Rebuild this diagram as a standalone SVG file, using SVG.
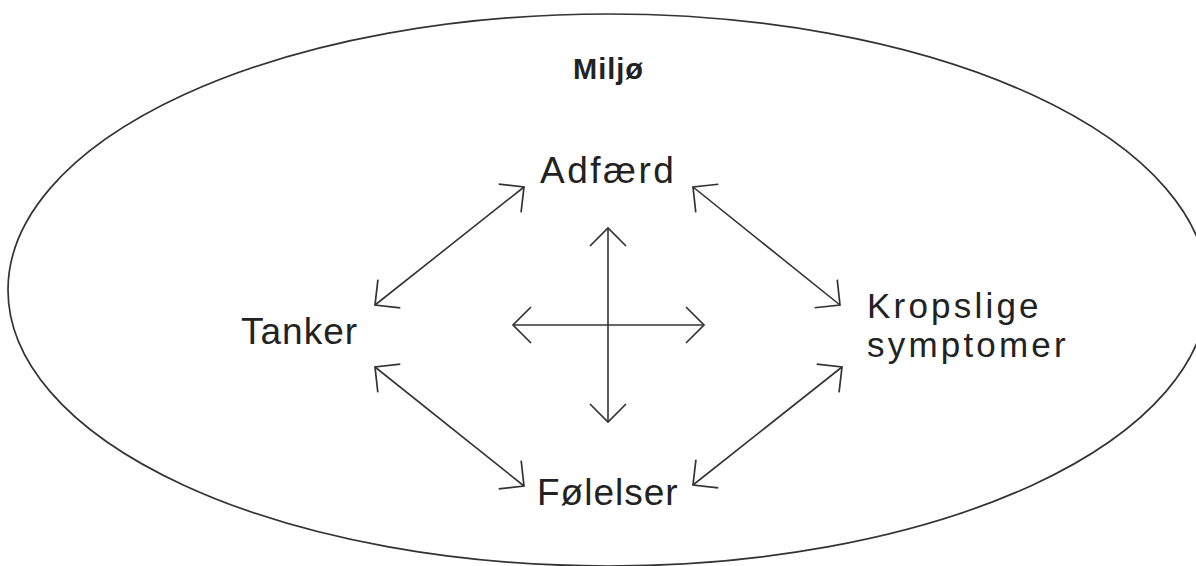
<svg xmlns="http://www.w3.org/2000/svg" width="1196" height="566" viewBox="0 0 1196 566">
  <defs>
    <marker id="head" markerUnits="userSpaceOnUse" markerWidth="40" markerHeight="40" viewBox="-30 -20 40 40" refX="0" refY="0" orient="auto-start-reverse">
      <path d="M-18,-18 L0,0 L-18,18" fill="none" stroke="#333" stroke-width="1.7" stroke-linejoin="miter"/>
    </marker>
    <style>
      .lbl { font-family: "Liberation Sans", Arial, sans-serif; font-size: 37px; fill: #222; letter-spacing: 1px; }
      .wide { letter-spacing: 2.5px; }
      .two { font-size: 35px; letter-spacing: 3.2px; }
      .env { font-family: "Liberation Sans", Arial, sans-serif; font-size: 29px; font-weight: bold; fill: #222; letter-spacing: 1px; }
      .link { stroke: #333; stroke-width: 1.6; fill: none; marker-start: url(#head); marker-end: url(#head); }
    </style>
  </defs>
  <rect width="1196" height="566" fill="#fff"/>

  <g id="miljo">
    <ellipse cx="608" cy="290" rx="600" ry="276" fill="none" stroke="#333" stroke-width="1.7"/>
    <text class="env" x="573" y="79">Miljø</text>
  </g>

  <g id="adfaerd">
    <text class="lbl wide" x="540" y="183">Adfærd</text>
  </g>
  <g id="tanker">
    <text class="lbl" x="241" y="344">Tanker</text>
  </g>
  <g id="kropslige">
    <text class="lbl two" x="867" y="318">Kropslige<tspan x="867" dy="39">symptomer</tspan></text>
  </g>
  <g id="folelser">
    <text class="lbl" x="537" y="505">Følelser</text>
  </g>

  <g id="connectors">
    <line class="link" x1="375" y1="305" x2="524" y2="187"/>
    <line class="link" x1="693" y1="187" x2="840" y2="305"/>
    <line class="link" x1="375" y1="367" x2="524" y2="486"/>
    <line class="link" x1="842" y1="367" x2="693" y2="485"/>
    <line class="link" x1="608" y1="228" x2="608" y2="422"/>
    <line class="link" x1="513" y1="325" x2="704" y2="325"/>
  </g>
</svg>
